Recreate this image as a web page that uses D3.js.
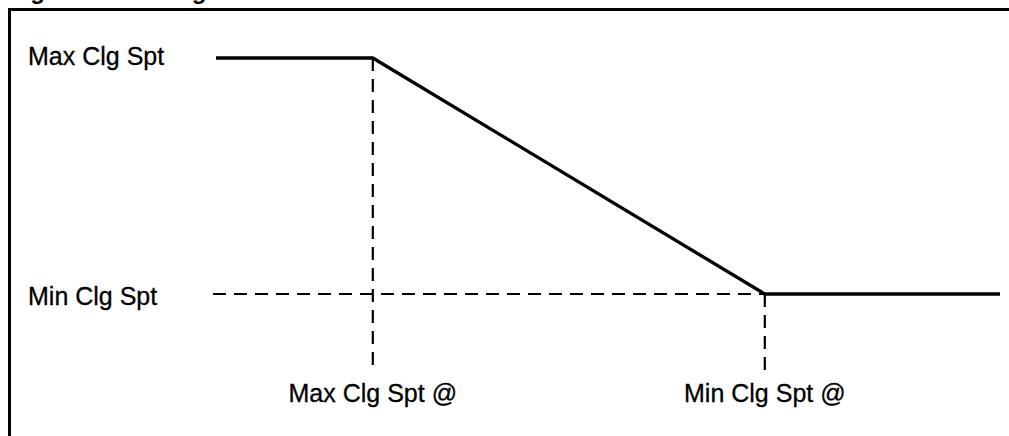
<!DOCTYPE html>
<html>
<head>
<meta charset="utf-8">
<script src="https://cdn.jsdelivr.net/npm/d3@7"></script>
<style>
    body { margin: 0; background: #fff; }
    svg { display: block; }
    text { font-family: "Liberation Sans", Arial, sans-serif; fill: #000; }
</style>
</head>
<body>
<svg id="chart" width="1009" height="436"></svg>
<script>
// popisky os (osa y = setpointy, osa x = body resetu)
const yLabels = ["Min Clg Spt", "Max Clg Spt"];
const xLabels = ["Max Clg Spt @", "Min Clg Spt @"];
// zlomove body resetu na ose x (0 az 100)
const breakX = [20, 70];
// prubeh krivky: x a uroven setpointu (0 = min, 1 = max)
const curveX = [0, 20, 70, 100];
const curveY = [1, 1, 0, 0];
const title = "Figure 3: Cooling Reset";

const svg = d3.select("#chart");

// skalovani
const x = d3.scaleLinear().domain([0, 100]).range([216, 1000]);
const y = d3.scaleLinear().domain([0, 1]).range([294, 58]);
const bottomY = 372;

// titulek - oriznuty hornim okrajem, vidi se jen dotahy
svg.append("text")
    .attr("x", 9)
    .attr("y", -1.5)
    .style("font-size", "24px")
    .style("font-weight", "bold")
    .text(title);

// ramecek (jen levy a horni okraj je videt)
svg.append("path")
    .attr("d", "M9.5,436V9.5H1009")
    .attr("fill", "none")
    .attr("stroke", "#000")
    .attr("stroke-width", 3);

// carkovane vodici cary
const dash = "13,8";
svg.append("line")
    .attr("x1", x(0) - 3).attr("x2", x(breakX[1]))
    .attr("y1", y(0)).attr("y2", y(0))
    .attr("stroke", "#000").attr("stroke-width", 2)
    .attr("stroke-dasharray", dash);

svg.selectAll(".vguide")
    .data(breakX)
    .join("line")
    .attr("class", "vguide")
    .attr("x1", d => x(d)).attr("x2", d => x(d))
    .attr("y1", d => y(curveY[curveX.indexOf(d)]))
    .attr("y2", bottomY)
    .attr("stroke", "#000").attr("stroke-width", 2.2)
    .attr("stroke-dasharray", dash);

// krivka resetu
const line = d3.line()
    .x(d => x(d[0]))
    .y(d => y(d[1]));

svg.append("path")
    .datum(d3.zip(curveX, curveY))
    .attr("d", line)
    .attr("fill", "none")
    .attr("stroke", "#000")
    .attr("stroke-width", 3.3)
    .attr("stroke-linejoin", "miter");

// popisky urovni setpointu
svg.selectAll(".ylab")
    .data(yLabels)
    .join("text")
    .attr("class", "ylab")
    .attr("x", 28)
    .attr("y", (d, i) => y(i) + (i ? 7 : 11))
    .style("font-size", "25px")
    .style("stroke", "#000")
    .style("stroke-width", 0.3)
    .text(d => d);

// popisky zlomovych bodu
svg.selectAll(".xlab")
    .data(xLabels)
    .join("text")
    .attr("class", "xlab")
    .attr("x", (d, i) => x(breakX[i]))
    .attr("y", 402)
    .attr("text-anchor", "middle")
    .style("font-size", "25px")
    .style("stroke", "#000")
    .style("stroke-width", 0.3)
    .text(d => d);
</script>
</body>
</html>
